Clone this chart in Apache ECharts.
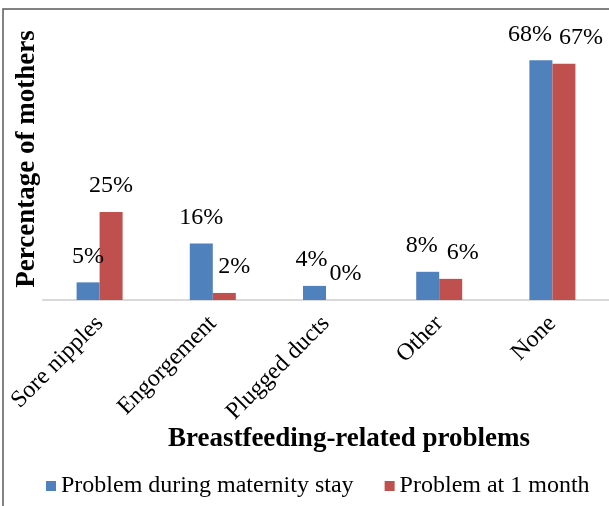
<!DOCTYPE html>
<html>
<head>
<meta charset="utf-8">
<style>
  html, body { margin: 0; padding: 0; background: #fff; }
  #chart { width: 609px; height: 506px; }
</style>
<script src="https://cdn.jsdelivr.net/npm/echarts@6/dist/echarts.min.js"></script>
</head>
<body>
<div id="chart"></div>
<script>
// Breastfeeding-related problems reported by mothers (%)
const categories = ['Sore nipples', 'Engorgement', 'Plugged ducts', 'Other', 'None'];
const maternityStay = [5, 16, 4, 8, 68];
const atOneMonth = [25, 2, 0, 6, 67];
const seriesNames = ['Problem during maternity stay', 'Problem at 1 month'];

// horizontal nudges that keep neighbouring value labels from colliding
const nudgeStay = [0, 0, -3, -6, -11];
const nudgeMonth = [0, 10, 8, 12, 17];

const FONT = '"Liberation Serif", "Times New Roman", serif';

function withLabels(values, nudges) {
  return values.map((v, i) => ({
    value: v,
    label: { offset: [nudges[i], 0] }
  }));
}

const valueLabel = {
  show: true,
  position: 'top',
  distance: 14,
  formatter: '{c}%',
  fontFamily: FONT,
  fontSize: 24,
  color: '#000'
};

const chart = echarts.init(document.getElementById('chart'), null, { renderer: 'canvas' });

chart.setOption({
  backgroundColor: '#ffffff',
  animation: false,
  grid: { left: 43, right: 0, top: 18, bottom: 206, containLabel: false },
  title: {
    text: 'Breastfeeding-related problems',
    left: 344,
    top: 421,
    textAlign: 'center',
    textStyle: { fontFamily: FONT, fontWeight: 'bold', fontSize: 27, color: '#000' }
  },
  legend: {
    data: seriesNames,
    left: 41,
    top: 469,
    itemWidth: 10,
    itemHeight: 10,
    itemGap: 31,
    icon: 'rect',
    textStyle: { fontFamily: FONT, fontSize: 24, color: '#000' }
  },
  graphic: [{
    type: 'rect',
    shape: { x: 3, y: 9, width: 700, height: 600 },
    style: { fill: 'none', stroke: '#595959', lineWidth: 1.5 },
    silent: true
  }],
  xAxis: {
    type: 'category',
    data: categories,
    axisLine: { lineStyle: { color: '#d9d9d9', width: 2 } },
    axisTick: { show: false },
    axisLabel: {
      rotate: 45,
      margin: 20,
      interval: 0,
      fontFamily: FONT,
      fontSize: 24,
      color: '#000'
    }
  },
  yAxis: {
    type: 'value',
    min: 0,
    max: 80,
    name: 'Percentage of mothers',
    nameLocation: 'middle',
    nameGap: 2,
    nameTextStyle: { fontFamily: FONT, fontWeight: 'bold', fontSize: 27, color: '#000' },
    axisLine: { show: false },
    axisTick: { show: false },
    axisLabel: { show: false },
    splitLine: { show: false }
  },
  series: [
    {
      name: seriesNames[0],
      type: 'bar',
      data: withLabels(maternityStay, nudgeStay),
      barWidth: 23,
      barGap: '0%',
      itemStyle: { color: '#4f81bd' },
      label: valueLabel
    },
    {
      name: seriesNames[1],
      type: 'bar',
      data: withLabels(atOneMonth, nudgeMonth),
      barWidth: 23,
      barGap: '0%',
      itemStyle: { color: '#c0504d' },
      label: valueLabel
    }
  ]
});
</script>
</body>
</html>
